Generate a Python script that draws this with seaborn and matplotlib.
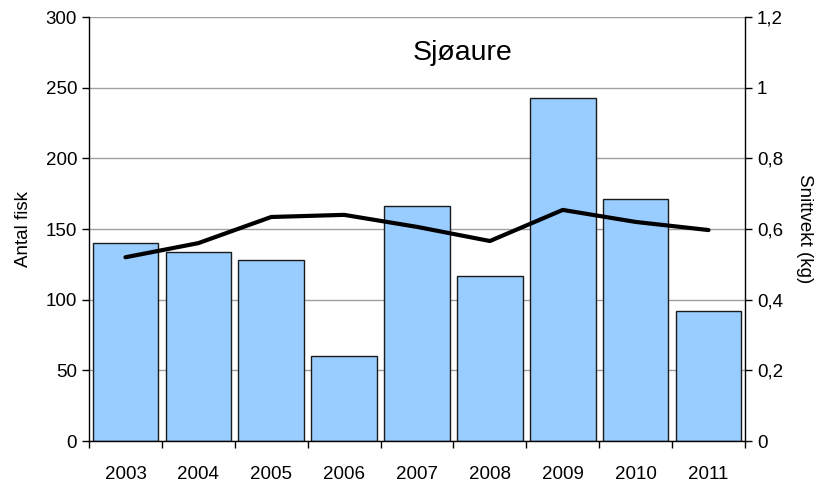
import matplotlib
matplotlib.use("Agg")
import matplotlib.pyplot as plt
import seaborn as sns
import numpy as np
import pandas as pd

years = ["2003", "2004", "2005", "2006", "2007", "2008", "2009", "2010", "2011"]
antal = [140, 134, 128, 60, 166, 117, 243, 171, 92]
snittvekt = [0.52, 0.56, 0.634, 0.64, 0.606, 0.566, 0.654, 0.62, 0.597]

sns.set_theme(style="white")
plt.rcParams['font.family'] = ['Liberation Sans', 'DejaVu Sans']
plt.rcParams['text.color'] = 'black'
plt.rcParams['axes.labelcolor'] = 'black'
plt.rcParams['xtick.color'] = 'black'
plt.rcParams['ytick.color'] = 'black'

df = pd.DataFrame({"year": years, "antal": antal, "vekt": snittvekt})

fs = 13.5
fig = plt.figure(figsize=(8.23, 4.82), dpi=100)
ax = fig.add_axes([89/823, 1-441/482, (745-89)/823, (441-17)/482])

ax.set_axisbelow(True)
ax.yaxis.grid(True, color="#a0a0a0", linewidth=1.0)
sns.barplot(data=df, x="year", y="antal", color="#99CCFF", saturation=1,
            edgecolor="#1a1a1a", linewidth=1.0, width=0.9, ax=ax)
ax.set_ylim(0, 300)
ax.set_xlim(-0.5, len(years) - 0.5)
ax.set_yticks(range(0, 301, 50))
ax.set_xticks(np.arange(-0.5, len(years), 1.0), minor=True)
ax.set_xlabel("")
ax.set_ylabel("Antal fisk", fontsize=fs, labelpad=10)
ax.tick_params(axis="both", which="major", labelsize=fs, direction="out", length=5, width=1,
               color="black", labelcolor="black", left=True, bottom=False)
ax.tick_params(axis="x", which="major", pad=13)
ax.tick_params(axis="x", which="minor", bottom=True, direction="out", length=5, width=1, color="black")
for s in ["top", "right"]:
    ax.spines[s].set_visible(False)
for s in ["left", "bottom"]:
    ax.spines[s].set_color("black")
    ax.spines[s].set_linewidth(1.0)

ax2 = ax.twinx()
sns.lineplot(x=np.arange(len(years)), y=df["vekt"], color="black", linewidth=3, ax=ax2)
ax2.set_ylim(0, 1.2)
ax2.set_xlim(-0.5, len(years) - 0.5)
ticks2 = [0, 0.2, 0.4, 0.6, 0.8, 1.0, 1.2]
ax2.set_yticks(ticks2)
ax2.set_yticklabels(["0", "0,2", "0,4", "0,6", "0,8", "1", "1,2"])
ax2.set_ylabel("Snittvekt (kg)", fontsize=fs, rotation=270, labelpad=22, color="black")
ax2.tick_params(axis="y", labelsize=fs, direction="out", length=5, width=1, color="black",
                labelcolor="black", right=True)
for s in ["top", "left", "bottom"]:
    ax2.spines[s].set_visible(False)
ax2.spines["right"].set_color("black")
ax2.spines["right"].set_linewidth(1.0)

ax.text(0.57, 0.915, "Sjøaure", transform=ax.transAxes, fontsize=20.5, ha="center", va="center",
        color="black")

fig.savefig("out.png", dpi=100)
